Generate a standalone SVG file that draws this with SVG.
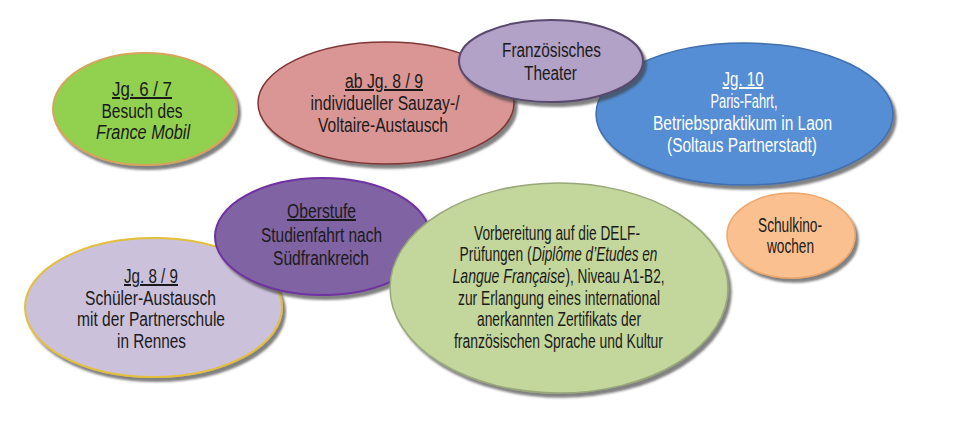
<svg xmlns="http://www.w3.org/2000/svg" width="972" height="423" viewBox="0 0 972 423">
<defs>
<filter id="sh" x="-10%" y="-10%" width="125%" height="130%">
<feDropShadow dx="3" dy="4" stdDeviation="1.3" flood-color="#404040" flood-opacity="0.65"/>
</filter>
</defs>
<style>
text{font-family:"Liberation Sans Narrow","Liberation Sans",Arial,sans-serif;font-size:20px;fill:#1a1a1a;text-anchor:middle}
.s{text-anchor:start}
.e{text-anchor:end}
.w{fill:#ffffff}
.u{text-decoration:underline}
.i{font-style:italic}
ellipse{filter:url(#sh)}
</style>
<rect width="972" height="423" fill="#ffffff"/>
<g id="connectors"/>
<g id="n-jg67">
<ellipse cx="145" cy="109" rx="92" ry="56" fill="#92d050" stroke="#d6a55c" stroke-width="2"/>
<text x="142" y="96" class="u" textLength="60" lengthAdjust="spacingAndGlyphs">Jg. 6 / 7</text>
<text x="142" y="118" textLength="81" lengthAdjust="spacingAndGlyphs">Besuch des</text>
<text x="143" y="139" class="i" textLength="94" lengthAdjust="spacingAndGlyphs">France Mobil</text>
</g>
<g id="n-abjg89">
<ellipse cx="386" cy="103" rx="128" ry="61" fill="#da9694" stroke="#7f3535" stroke-width="1.5"/>
<text x="384" y="88" class="u" textLength="78" lengthAdjust="spacingAndGlyphs">ab Jg. 8 / 9</text>
<text x="385" y="110" textLength="149" lengthAdjust="spacingAndGlyphs">individueller Sauzay-/</text>
<text x="383" y="132" textLength="130" lengthAdjust="spacingAndGlyphs">Voltaire-Austausch</text>
</g>
<g id="n-jg10">
<ellipse cx="744.5" cy="114" rx="148.5" ry="71" fill="#558ed5" stroke="#3f6faf" stroke-width="1.5"/>
<text x="743" y="86" class="w u" textLength="41" lengthAdjust="spacingAndGlyphs">Jg. 10</text>
<text x="744" y="108" class="w" textLength="67" lengthAdjust="spacingAndGlyphs">Paris-Fahrt,</text>
<text x="742.5" y="130" class="w" textLength="179" lengthAdjust="spacingAndGlyphs">Betriebspraktikum in Laon</text>
<text x="742" y="152" class="w" textLength="150" lengthAdjust="spacingAndGlyphs">(Soltaus Partnerstadt)</text>
</g>
<g id="n-theater">
<ellipse cx="551" cy="61" rx="92" ry="41" fill="#b3a2c7" stroke="#5a4a6e" stroke-width="2"/>
<text x="551.5" y="57" textLength="99" lengthAdjust="spacingAndGlyphs">Französisches</text>
<text x="550.5" y="80" textLength="53" lengthAdjust="spacingAndGlyphs">Theater</text>
</g>
<g id="n-jg89">
<ellipse cx="153.5" cy="307.5" rx="128.5" ry="69.5" fill="#ccc1da" stroke="#e3bf3a" stroke-width="2"/>
<text x="151" y="283" class="u" textLength="54" lengthAdjust="spacingAndGlyphs">Jg. 8 / 9</text>
<text x="150.5" y="305" textLength="131" lengthAdjust="spacingAndGlyphs">Schüler-Austausch</text>
<text x="151" y="326" textLength="148" lengthAdjust="spacingAndGlyphs">mit der Partnerschule</text>
<text x="151.5" y="348" textLength="69" lengthAdjust="spacingAndGlyphs">in Rennes</text>
</g>
<g id="n-oberstufe">
<ellipse cx="322.5" cy="236.5" rx="107.5" ry="58.5" fill="#8064a2" stroke="#7030a0" stroke-width="2"/>
<text x="321.5" y="218" class="u" textLength="69" lengthAdjust="spacingAndGlyphs">Oberstufe</text>
<text x="321.5" y="242" textLength="121" lengthAdjust="spacingAndGlyphs">Studienfahrt nach</text>
<text x="321" y="265" textLength="96" lengthAdjust="spacingAndGlyphs">Südfrankreich</text>
</g>
<g id="n-delf">
<ellipse cx="559" cy="288" rx="169" ry="105" fill="#c3d69b" stroke="#98a87a" stroke-width="1.5"/>
<text x="557" y="240" textLength="166" lengthAdjust="spacingAndGlyphs">Vorbereitung auf die DELF-</text>
<text x="531.5" y="261.5" class="e" transform="matrix(0.689 0 0 1 165.3 0)" textLength="104.5" lengthAdjust="spacingAndGlyphs">Prüfungen (</text>
<text x="532" y="261.5" class="s i" transform="matrix(0.68 0 0 1 170.2 0)" textLength="184.5" lengthAdjust="spacingAndGlyphs">Diplôme d’Etudes en</text>
<text x="565" y="283" class="e i" transform="matrix(0.703 0 0 1 167.8 0)" textLength="160" lengthAdjust="spacingAndGlyphs">Langue Française</text>
<text x="565.5" y="283" class="s" transform="matrix(0.675 0 0 1 183.8 0)" textLength="146.7" lengthAdjust="spacingAndGlyphs">), Niveau A1-B2,</text>
<text x="559" y="304.5" textLength="202" lengthAdjust="spacingAndGlyphs">zur Erlangung eines international</text>
<text x="559" y="326" textLength="164" lengthAdjust="spacingAndGlyphs">anerkannten Zertifikats der</text>
<text x="558.5" y="347.5" textLength="209" lengthAdjust="spacingAndGlyphs">französischen Sprache und Kultur</text>
</g>
<g id="n-schulkino">
<ellipse cx="791" cy="235.5" rx="64" ry="42.5" fill="#fac090" stroke="#eea66a" stroke-width="1.5"/>
<text x="790" y="232" textLength="64" lengthAdjust="spacingAndGlyphs">Schulkino-</text>
<text x="790.5" y="253" textLength="47" lengthAdjust="spacingAndGlyphs">wochen</text>
</g>
</svg>
